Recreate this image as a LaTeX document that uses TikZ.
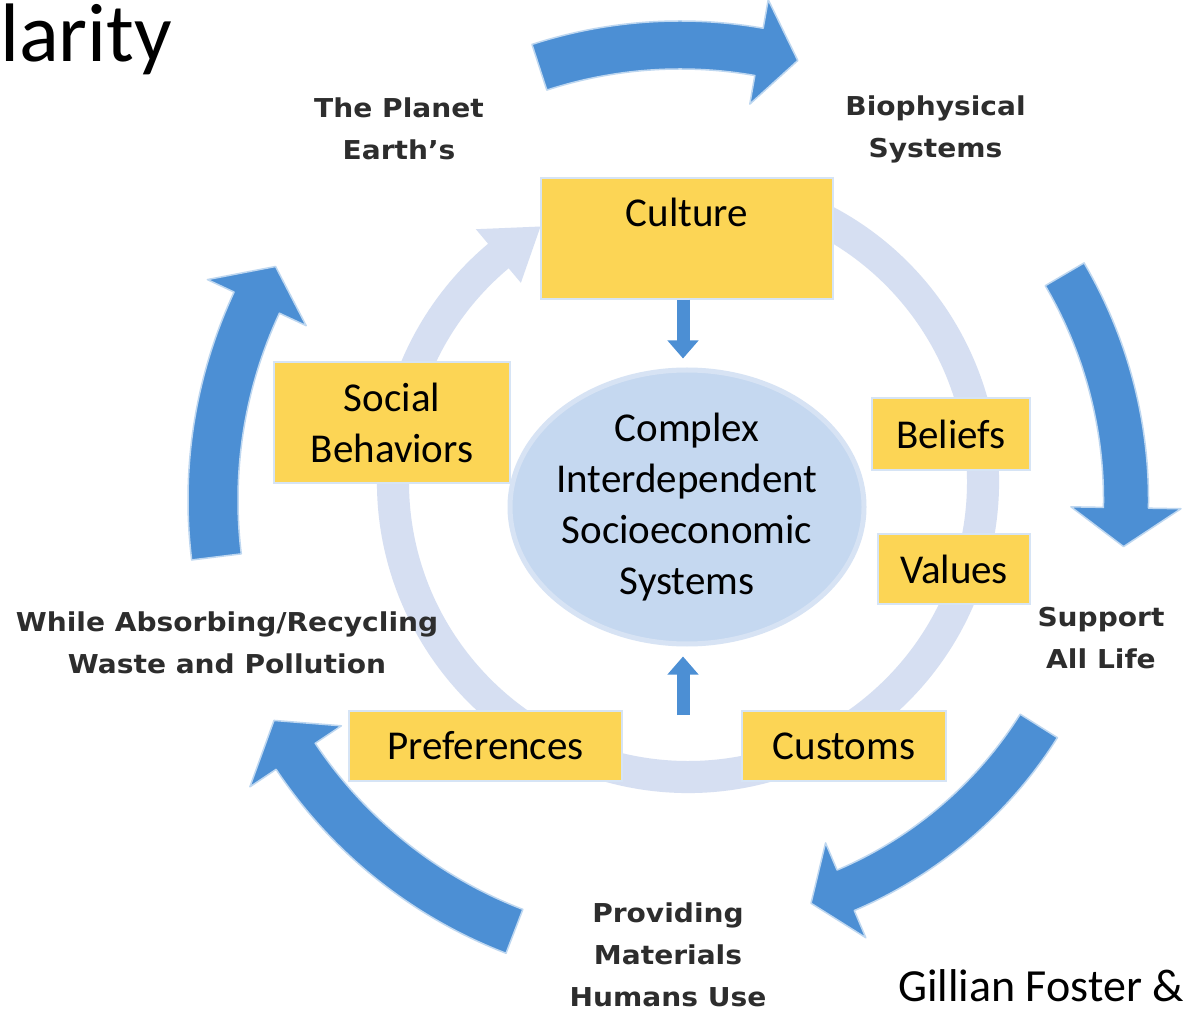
\documentclass[tikz,border=0pt]{standalone}
\usepackage{fontspec}
\setmainfont{Carlito}
\newfontfamily\labfont[FakeStretch=1.08]{DejaVu Sans}
\usetikzlibrary{arrows.meta,shapes.geometric}
\definecolor{bigblue}{RGB}{76,143,212}
\definecolor{bigedge}{RGB}{190,215,240}
\definecolor{ringcol}{RGB}{214,223,242}
\definecolor{boxyel}{RGB}{252,213,85}
\definecolor{boxedge}{RGB}{214,228,245}
\definecolor{ellfill}{RGB}{197,216,240}
\definecolor{elledge}{RGB}{215,227,244}
\definecolor{labgray}{RGB}{45,45,45}
% curved block arrow: #1 centre, #2 style, #3 tail angle, #4 head-base angle, #5 tip angle, #6 radius, #7 half band, #8 half head
\newcommand\curvarr[8]{%
  \pgfmathsetmacro\cvAo{#6+#7}\pgfmathsetmacro\cvAi{#6-#7}%
  \pgfmathsetmacro\cvHo{#6+#8}\pgfmathsetmacro\cvHi{#6-#8}%
  \path[#2] ([shift={(#1)}]#3:\cvAo) arc[start angle=#3, end angle=#4, radius=\cvAo]
    -- ([shift={(#1)}]#4:\cvHo) -- ([shift={(#1)}]#5:#6) -- ([shift={(#1)}]#4:\cvHi)
    -- ([shift={(#1)}]#4:\cvAi) arc[start angle=#4, end angle=#3, radius=\cvAi] -- cycle;}
\tikzset{
  bigarr/.style={fill=bigblue, draw=bigedge, line width=1.5pt, line join=round},
  ringarr/.style={fill=ringcol},
  ybox/.style={rectangle, fill=boxyel, draw=boxedge, line width=1.5pt, inner sep=0pt,
    font=\fontsize{41}{51}\selectfont},
  lab/.style={font=\labfont\bfseries\fontsize{26}{42}\selectfont, text=labgray, align=center, inner sep=0pt},
  smallarr/.style={draw=bigblue, line width=13pt, -{Triangle[width=30pt,length=18pt]}},
}
\begin{document}
\begin{tikzpicture}[x=1pt,y=1pt]
\fill[white] (0,0) rectangle (1183,1013);
\useasboundingbox (0,0) rectangle (1183,1013);
\coordinate (C) at (680,513);
\coordinate (R) at (688,531);
% faint inner ring arrow
\curvarr{R}{ringarr}{75}{-230}{-240}{295}{16}{35}
% big outer arrows
\curvarr{C}{bigarr}{108}{80}{75}{455}{24}{53}
\curvarr{C}{bigarr}{30.4}{-1}{-6}{446}{22.5}{55}
\curvarr{C}{bigarr}{-32.2}{-67}{-72}{424}{22}{51.5}
\curvarr{C}{bigarr}{249}{213.7}{208.5}{462}{23.5}{55}
\curvarr{C}{bigarr}{187}{155}{150}{467}{25}{54.5}
% boxes
\node[ybox, minimum width=292pt, text height=49pt, text depth=72pt, anchor=base] (culture) at (687,786) {Culture};
\node[ybox, minimum width=236pt, minimum height=121pt, align=center] (social) at (392,590.5) {Social\\Behaviors};
\node[ybox, minimum width=158pt, minimum height=72pt] (beliefs) at (951,579) {Beliefs};
\node[ybox, minimum width=152pt, minimum height=70pt] (values) at (954,444) {Values};
\node[ybox, minimum width=273pt, minimum height=70pt] (prefs) at (485.5,267) {Preferences};
\node[ybox, minimum width=204pt, minimum height=70pt] (customs) at (844,267) {Customs};
% central ellipse
\node[ellipse, fill=ellfill, draw=elledge, line width=5pt, minimum width=354pt, minimum height=274pt, inner sep=0pt] (cis) at (687,506) {};
\node[align=center, inner sep=0pt, font=\fontsize{41}{51}\selectfont] (cistext) at (cis.center) {Complex\\Interdependent\\Socioeconomic\\Systems};
% small arrows
\coordinate (upstart) at (683,298);
\draw[smallarr] ([xshift=-4pt]culture.south) -- ([xshift=-4pt,yshift=9pt]cis.north);
\draw[smallarr] (upstart) -- ([xshift=-4pt,yshift=-10pt]cis.south);
% labels
\node[lab] (planet) at (399,884.5) {The Planet\\Earth’s};
\node[lab] (bio) at (935.5,884) {Biophysical\\Systems};
\node[lab] (waste) at (227,370) {While Absorbing/Recycling\\Waste and Pollution};
\node[lab] (support) at (1101,374.5) {Support\\All Life};
\node[lab] (provide) at (668,58.5) {Providing\\Materials\\Humans Use};
% title fragment and credit
\node[anchor=base west, inner sep=0pt, font=\fontsize{83}{95}\selectfont] (title) at (0,951) {larity};
\node[anchor=base west, inner sep=0pt, font=\fontsize{46}{55}\selectfont] (credit) at (898,12) {Gillian Foster \&};
\end{tikzpicture}
\end{document}
